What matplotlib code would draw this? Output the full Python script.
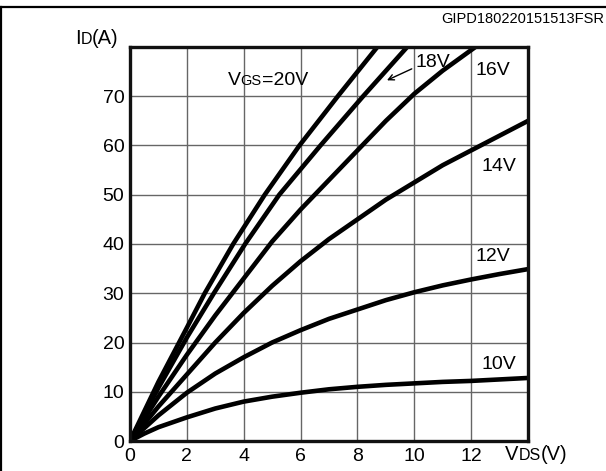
import numpy as np
import matplotlib
matplotlib.use("Agg")
import matplotlib.pyplot as plt
from matplotlib.lines import Line2D

plt.rcParams['font.family'] = ['Liberation Sans', 'DejaVu Sans']

# output characteristics, I_D (A) vs V_DS (V)
vds_20 = [0, 1.0, 2.0, 2.63, 3.63, 4.74, 5.96, 7.31, 8.7]
id_20 = [0, 12.0, 23.0, 30, 40, 50, 60, 70, 80]
vds_18 = [0, 1.0, 2.0, 2.95, 4.05, 5.25, 6.7, 8.2, 9.75]
id_18 = [0, 10.8, 21.0, 30, 40, 50, 60, 70, 80]
vds_16 = [0, 1, 2, 3, 4, 5, 6, 7, 8, 9, 10, 11, 12.15]
id_16 = [0, 9.0, 17.5, 25.5, 33.0, 40.5, 47.0, 53.0, 59.0, 65.0, 70.5, 75.2, 80]
vds_14 = [0, 1, 2, 3, 4, 5, 6, 7, 8, 9, 10, 11, 12, 13, 14]
id_14 = [0, 7.0, 13.5, 20.0, 26.0, 31.5, 36.5, 41.0, 45.0, 49.0, 52.5, 56.0, 59.0, 62.0, 65.0]
vds_12 = [0, 1, 2, 3, 4, 5, 6, 7, 8, 9, 10, 11, 12, 13, 14]
id_12 = [0, 5.2, 9.8, 13.7, 17.0, 20.0, 22.5, 24.8, 26.7, 28.6, 30.2, 31.6, 32.8, 33.9, 34.9]
vds_10 = [0, 0.5, 1, 2, 3, 4, 5, 6, 7, 8, 9, 10, 11, 12, 13, 14]
id_10 = [0, 1.5, 2.8, 4.8, 6.6, 8.0, 9.0, 9.8, 10.5, 11.0, 11.4, 11.7, 12.0, 12.2, 12.5, 12.8]

curves = [(vds_20, id_20), (vds_18, id_18), (vds_16, id_16),
          (vds_14, id_14), (vds_12, id_12), (vds_10, id_10)]

x_ticks = [0, 2, 4, 6, 8, 10, 12]
y_ticks = [0, 10, 20, 30, 40, 50, 60, 70]

W, H = 606, 471
fig = plt.figure(figsize=(W / 100, H / 100), dpi=100)
ax = fig.add_axes([130 / W, 30 / H, 398 / W, 394 / H])

for v, i in curves:
    ax.plot(v, i, color='black', lw=3.3, solid_joinstyle='round', clip_on=True)

ax.set_xlim(0, 14)
ax.set_ylim(0, 80)
ax.set_xticks(x_ticks)
ax.set_yticks(y_ticks)
ax.grid(True, color='#666666', lw=1.0)
ax.set_axisbelow(True)
ax.tick_params(length=0, labelsize=14)
ax.tick_params(axis='x', pad=5)
ax.tick_params(axis='y', pad=4)
for s in ax.spines.values():
    s.set_linewidth(2.4)
    s.set_color('#111111')

renderer = fig.canvas.get_renderer()


def rich(xd, yd, parts, ha='left'):
    # draws pieces of text of different sizes side by side on one baseline
    widths = []
    for s, size in parts:
        t = fig.text(0, 0, s, fontsize=size)
        widths.append(t.get_window_extent(renderer).width)
        t.remove()
    x = xd
    if ha == 'center':
        x = xd - sum(widths) / 2
    for (s, size), w in zip(parts, widths):
        fig.text(x / W, yd / H, s, fontsize=size, va='baseline')
        x += w


def data_px(v, i):
    return ax.transData.transform((v, i))


px, py = data_px(4.84, 72.3)
rich(px, py, [('V', 14), ('GS', 10.5), ('=20V', 14)], ha='center')

for lbl, v, i in [('18V', 10.67, 76.8), ('16V', 12.75, 75.3), ('14V', 12.98, 55.8),
                  ('12V', 12.77, 37.4), ('10V', 12.98, 15.6)]:
    ax.text(v, i, lbl, fontsize=14, ha='center', va='center')

ax.annotate('', xy=(8.95, 73.0), xytext=(10.0, 75.8),
            arrowprops=dict(arrowstyle='->', color='black', lw=1.0))

rich(75, H - 44, [('I', 14.5), ('D', 11.5), ('(A)', 14.5)])
rich(505, H - 460, [('V', 14.5), ('DS', 11.5), ('(V)', 14.5)])

fig.text(604 / W, 1 - 19 / H, 'GIPD180220151513FSR', fontsize=10.5,
         ha='right', va='center')

# frame of the figure box
fig.add_artist(Line2D([1 / W, 1 / W], [0, 1 - 7 / H], color='black', lw=1.6))
fig.add_artist(Line2D([0, 1], [1 - 7 / H, 1 - 7 / H], color='black', lw=1.6))

fig.savefig('out.png', dpi=100)
